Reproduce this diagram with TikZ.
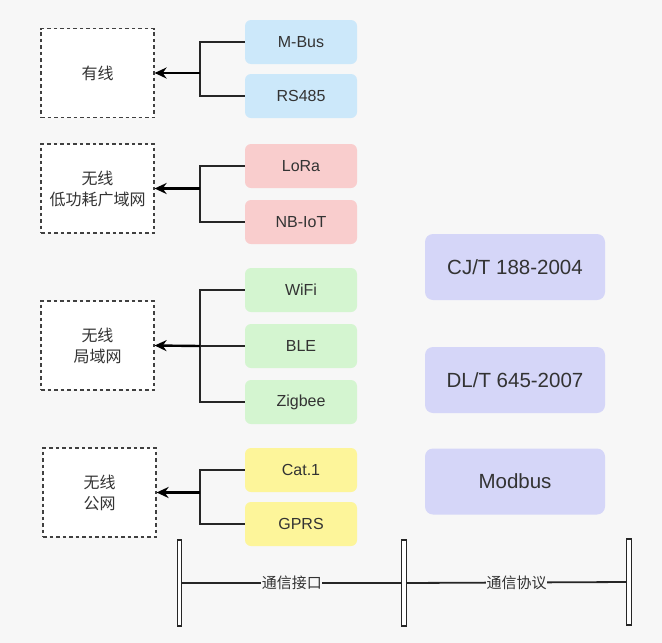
\documentclass[tikz,border=0pt]{standalone}
\usepackage{fontspec}
\setmainfont{Liberation Sans}
\newfontfamily\cjk{Noto Sans CJK SC}
\usetikzlibrary{arrows.meta}
\definecolor{bgc}{HTML}{F7F7F7}
\definecolor{bluec}{HTML}{CCE8FA}
\definecolor{redc}{HTML}{F9CDCD}
\definecolor{greenc}{HTML}{D4F5D0}
\definecolor{yellowc}{HTML}{FDF59A}
\definecolor{protoc}{HTML}{D5D6F8}
\definecolor{txt}{HTML}{333333}
\tikzset{
  ifbox/.style={rounded corners=6pt, minimum width=112pt, minimum height=44pt, inner sep=0pt, font=\fontsize{16}{18}\selectfont, text=txt},
  catbox/.style={draw=black!75, line width=1.2pt, dash pattern=on 3.5pt off 3pt, fill=white, minimum width=113pt, minimum height=89pt, inner sep=0pt, align=center, font=\cjk\fontsize{16}{21}\selectfont, text=txt},
  protobox/.style={rounded corners=8pt, fill=protoc, minimum width=180pt, minimum height=66pt, inner sep=0pt, font=\fontsize{20.5}{22}\selectfont, text=txt},
  conn/.style={line width=1.8pt, draw=black!85},
  arr/.style={line width=2.4pt, draw=black, -{Stealth[length=12pt,width=11pt]}},
  bar/.style={draw=black!85, fill=white, line width=1.2pt, minimum width=4.5pt, minimum height=86pt, inner sep=0pt},
  lab/.style={fill=bgc, inner sep=0.5pt, font=\cjk\fontsize{15}{17}\selectfont, text=txt}
}
\begin{document}
\begin{tikzpicture}[x=1pt,y=-1pt]
\fill[bgc] (0,0) rectangle (662,643);
\useasboundingbox (0,0) rectangle (662,643);
% category boxes
\node[catbox] (c1) at (97.5,73) {有线};
\node[catbox] (c2) at (97.5,188.5) {无线\\低功耗广域网};
\node[catbox] (c3) at (97.5,345.5) {无线\\局域网};
\node[catbox] (c4) at (99.5,492.5) {无线\\公网};
% interface boxes
\node[ifbox, fill=bluec] (mbus) at (301,42) {M-Bus};
\node[ifbox, fill=bluec] (rs) at (301,96) {RS485};
\node[ifbox, fill=redc] (lora) at (301,166) {LoRa};
\node[ifbox, fill=redc] (nb) at (301,222) {NB-IoT};
\node[ifbox, fill=greenc] (wifi) at (301,290) {WiFi};
\node[ifbox, fill=greenc] (ble) at (301,346) {BLE};
\node[ifbox, fill=greenc] (zig) at (301,402) {Zigbee};
\node[ifbox, fill=yellowc] (cat) at (301,470) {Cat.1};
\node[ifbox, fill=yellowc] (gprs) at (301,524) {GPRS};
% protocol boxes
\node[protobox] (cj) at (515,267) {CJ/T 188-2004};
\node[protobox] (dl) at (515,380) {DL/T 645-2007};
\node[protobox] (mod) at (515,481.5) {Modbus};
% junction coordinates
\coordinate (j1) at (200,73);
\coordinate (j2) at (200,188.5);
\coordinate (j3) at (200,346);
\coordinate (j4) at (200,492.5);
% connectors
\draw[conn] (mbus.west) -| (j1) |- (rs.west);
\draw[arr] (j1) -- (c1.east);
\draw[conn] (lora.west) -| (j2) |- (nb.west);
\draw[arr] (j2) -- (c2.east);
\draw[conn] (wifi.west) -| (j3) |- (zig.west);
\draw[conn] (ble.west) -- (j3);
\draw[arr] (j3) -- (c3.east);
\draw[conn] (cat.west) -| (j4) |- (gprs.west);
\draw[arr] (j4) -- (c4.east);
% bottom scale
\node[bar] (b1) at (179.5,583) {};
\node[bar] (b2) at (404,583) {};
\node[bar] (b3) at (629,582) {};
\draw[conn] (b1) -- node[lab] (l1) {通信接口} (b2);
\draw[conn] (b2) -- node[lab] (l2) {通信协议} (b3);
\end{tikzpicture}
\end{document}
